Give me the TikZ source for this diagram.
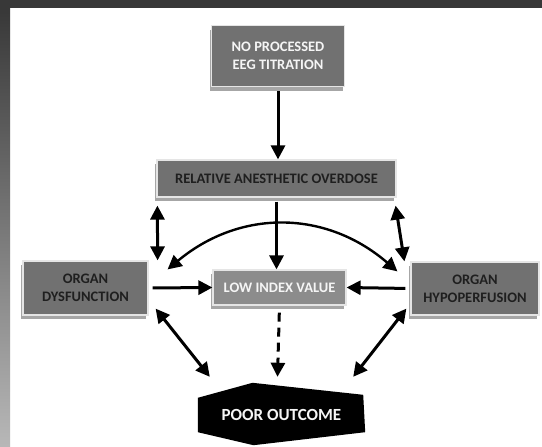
\documentclass[tikz,border=0pt]{standalone}
\usepackage{fontspec}
\setmainfont{Carlito}
\usepackage{tikz}
\usetikzlibrary{positioning,arrows.meta,calc,shadows,backgrounds}
\definecolor{framedark}{HTML}{383838}
\definecolor{boxgray}{HTML}{717171}
\tikzset{
  box/.style={draw=black!10, line width=1.2pt, fill=boxgray, align=center,
              font=\bfseries\fontsize{14.5}{18}\selectfont, inner sep=2pt, text=black!88,
              drop shadow={shadow xshift=-2pt, shadow yshift=-4pt, fill=black!35, opacity=1}},
  link/.style={-{Triangle[length=14pt,width=14pt]}, line width=3pt, black},
  both/.style={{Triangle[length=14pt,width=14pt]}-{Triangle[length=14pt,width=14pt]}, line width=3pt, black},
}

\begin{document}
\begin{tikzpicture}[x=1pt,y=-1pt]
  \useasboundingbox (0,0) rectangle (542,447);
  % boxes
  \node[box, minimum width=133pt, minimum height=61pt, text=black!4] (npt) at (278,56) {NO PROCESSED\\EEG TITRATION};
  \node[box, minimum width=239pt, minimum height=37pt] (rod) at (276.5,178.5) {RELATIVE ANESTHETIC OVERDOSE};
  \node[box, minimum width=125pt, minimum height=54pt] (od) at (85.5,288) {ORGAN\\DYSFUNCTION};
  \node[box, fill=black!45, minimum width=133pt, minimum height=35pt, text=black!4] (liv) at (279.5,287.5) {LOW INDEX VALUE};
  \node[box, minimum width=128pt, minimum height=53pt] (oh) at (475,288.5) {ORGAN\\HYPOPERFUSION};
  \node[font=\bfseries\fontsize{17}{20}\selectfont, text=black!4, minimum width=167pt, minimum height=34pt] (po) at (281.5,415) {POOR OUTCOME};
  % connectors
  \draw[link, shorten <=4pt] (npt.south) -- (npt.south |- rod.north);
  \draw[both] ([shift={(1,8)}]rod.south west) -- ([shift={(9,0)}]od.north east);
  \draw[both] ([shift={(-1,8)}]rod.south east) -- ([shift={(-6,0)}]oh.north west);
  \draw[both, line width=2.4pt] ([shift={(19,9)}]od.north east) .. controls +(72,-60) and +(-72,-62) .. ([shift={(-13,10)}]oh.north west);
  \draw[link, shorten <=4pt] (rod.south) -- (rod.south |- liv.north);
  \draw[link, shorten <=4pt] (od.east) -- (liv.west);
  \draw[link, shorten <=5pt] (oh.west) -- (liv.east);
  \draw[link, dash pattern=on 9pt off 6pt, shorten <=7pt] (liv.south) -- ($(liv.south |- po.north)+(-2,-21)$);
  \draw[both] ([shift={(7,-7)}]od.south east) -- ([shift={(12,-21)}]po.north west);
  \draw[both] ([shift={(-4,-7)}]oh.south west) -- ([shift={(-12,-21)}]po.north east);
  % frame and outcome shape
  \begin{scope}[on background layer]
    \fill[white] (0,0) rectangle (542,447);
    \fill[framedark] (0,0) rectangle (542,8);
    \shade[top color=framedark, bottom color=black!28] (0,8) rectangle (10,447);
    \fill[black] (po.north west) -- ([shift={(-29,-15)}]po.north) -- ([shift={(-2,-3)}]po.north east)
      -- (po.south east) -- ([shift={(-28,13)}]po.south) -- (po.south west) -- cycle;
  \end{scope}
\end{tikzpicture}
\end{document}
